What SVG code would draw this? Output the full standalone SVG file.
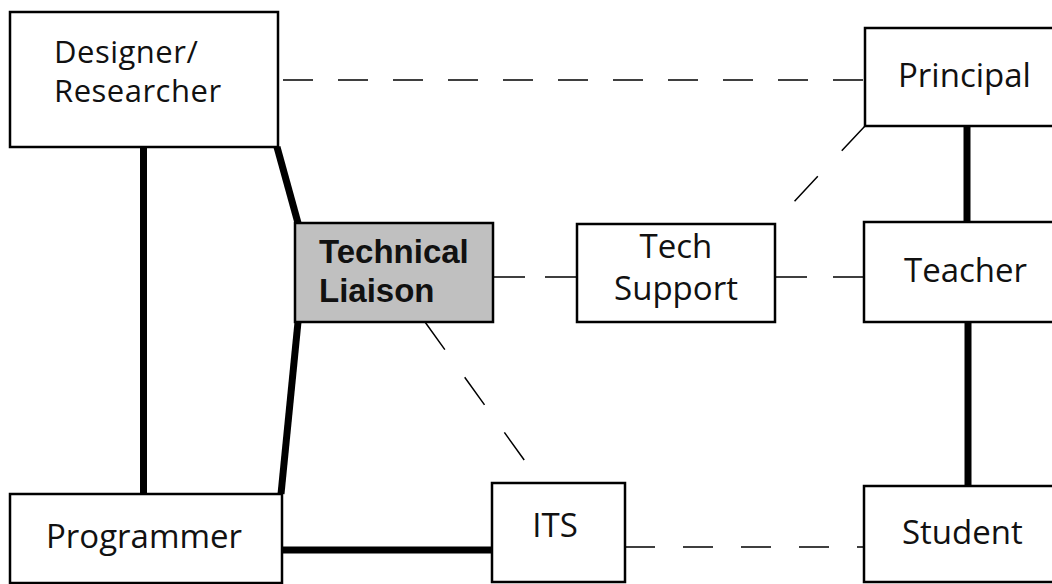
<svg xmlns="http://www.w3.org/2000/svg" width="1052" height="584" viewBox="0 0 1052 584">
<style>
.box{fill:#fff;stroke:#000;stroke-width:2.5}
.gray{fill:#c0c0c0}
.t{font-family:"Open Sans","Liberation Sans",sans-serif;font-size:33px;fill:#111}
.s{font-size:31px;letter-spacing:0.5px}
.b{font-family:"Liberation Sans",Arial,sans-serif;font-size:33px;font-weight:bold;fill:#111}
.thick{stroke:#000;stroke-width:7;fill:none}
.dash{stroke:#000;stroke-width:1.5;fill:none;stroke-dasharray:30 25}
</style>
<rect width="1052" height="584" fill="#fff"/>
<g id="connectors">
<line class="dash" x1="283" y1="80" x2="865" y2="80"/>
<line class="thick" x1="143.5" y1="147" x2="143.5" y2="494"/>
<line class="thick" x1="277" y1="147" x2="298" y2="223"/>
<line class="thick" x1="298" y1="322" x2="281" y2="494"/>
<line class="dash" x1="493" y1="277" x2="577" y2="277" style="stroke-dasharray:32 20"/>
<line class="dash" x1="775" y1="277" x2="864" y2="277" style="stroke-dasharray:32 26"/>
<line class="dash" x1="865" y1="126" x2="775" y2="222" style="stroke-dasharray:34 35"/>
<line class="dash" x1="425" y1="322" x2="540" y2="482" style="stroke-dasharray:34 34"/>
<line class="thick" x1="967" y1="126" x2="967" y2="222"/>
<line class="thick" x1="968" y1="322" x2="968" y2="486"/>
<line class="thick" x1="282" y1="550" x2="492" y2="550"/>
<line class="dash" x1="625" y1="547" x2="864" y2="547" style="stroke-dasharray:30 28"/>
</g>
<g id="designer">
<rect class="box" x="10" y="12" width="268" height="135"/>
<text class="t s" x="54" y="63">Designer/</text>
<text class="t s" x="54" y="102">Researcher</text>
</g>
<g id="principal">
<rect class="box" x="865" y="28" width="200" height="98"/>
<text class="t" x="898" y="87">Principal</text>
</g>
<g id="liaison">
<rect class="box gray" x="295" y="223" width="198" height="99"/>
<text class="b" x="319" y="263">Technical</text>
<text class="b" x="319" y="302">Liaison</text>
</g>
<g id="techsupport">
<rect class="box" x="577" y="224" width="198" height="98"/>
<text class="t" x="676" y="258" text-anchor="middle">Tech</text>
<text class="t" x="676" y="300" text-anchor="middle">Support</text>
</g>
<g id="teacher">
<rect class="box" x="864" y="222" width="200" height="100"/>
<text class="t" x="904" y="282">Teacher</text>
</g>
<g id="programmer">
<rect class="box" x="10" y="494" width="272" height="89"/>
<text class="t" x="46" y="548">Programmer</text>
</g>
<g id="its">
<rect class="box" x="492" y="483" width="133" height="99"/>
<text class="t" x="555" y="537" text-anchor="middle">ITS</text>
</g>
<g id="student">
<rect class="box" x="864" y="486" width="200" height="96"/>
<text class="t" x="902" y="544">Student</text>
</g>
</svg>
